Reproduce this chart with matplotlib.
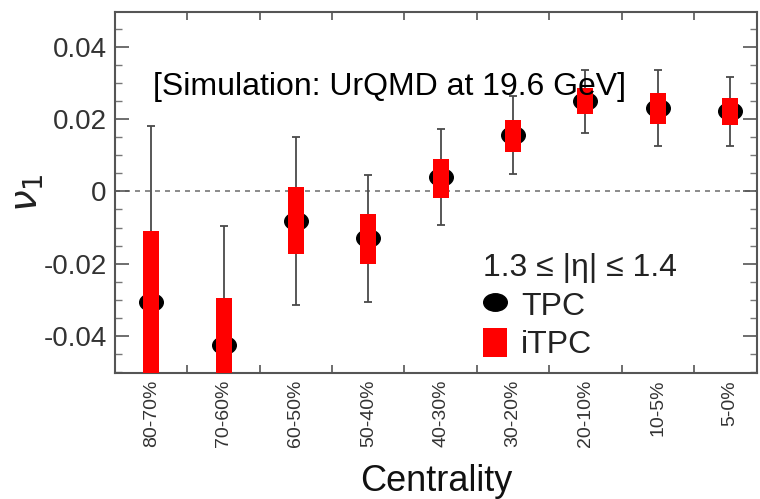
import matplotlib
matplotlib.use("Agg")
import matplotlib.pyplot as plt
from matplotlib.lines import Line2D
from matplotlib.patches import Patch
from matplotlib.path import Path
from matplotlib.transforms import Affine2D
from matplotlib.ticker import MultipleLocator, FixedLocator
import numpy as np

plt.rcParams['font.family'] = ['Liberation Sans', 'DejaVu Sans']

categories = ["80-70%", "70-60%", "60-50%", "50-40%", "40-30%", "30-20%", "20-10%", "10-5%", "5-0%"]
tpc_v1 = [-0.0305, -0.0426, -0.0083, -0.0130, 0.0040, 0.0156, 0.0250, 0.0230, 0.0222]
tpc_err = [0.0485, 0.0330, 0.0233, 0.0175, 0.0134, 0.0108, 0.0087, 0.0105, 0.0096]
itpc_v1 = [-0.0310, -0.0420, -0.0081, -0.0131, 0.0037, 0.0153, 0.0250, 0.0229, 0.0221]
itpc_err = [0.0200, 0.0125, 0.0093, 0.0069, 0.0054, 0.0044, 0.0036, 0.0043, 0.0038]

fig = plt.figure(figsize=(7.6, 4.99), dpi=100)
ax = fig.add_axes([0.1513, 0.2525, 0.8447, 0.7235])

# slightly wide ellipse marker (reference is horizontally stretched)
ell = Path.unit_circle().transformed(Affine2D().scale(1.35, 1.0))

x = np.arange(len(categories))
ax.axhline(0, color='#777777', ls=(0, (3, 3)), lw=1.2, zorder=1)

ax.errorbar(x, tpc_v1, yerr=tpc_err, fmt='none', ecolor='#4a4a4a', elinewidth=1.3,
            capsize=3, capthick=1.3, zorder=2)
ax.plot(x, tpc_v1, ls='none', marker=ell, color='black', markersize=17, zorder=3)

box_w = 0.22
for xi, v, e in zip(x, itpc_v1, itpc_err):
    ax.bar(xi, 2 * e, bottom=v - e, width=box_w, color='#ff0000', edgecolor='none', zorder=4)

ax.set_xlim(-0.5, 8.37)
ax.set_ylim(-0.0503, 0.0497)

ax.set_xticks(x)
ax.set_xticklabels(categories, rotation=90, fontsize=14, color='#333333')
ax.tick_params(axis='x', which='major', length=0, pad=5)
ax.xaxis.set_minor_locator(FixedLocator(np.arange(0.5, 8.0, 1.0)))
ax.tick_params(axis='x', which='minor', length=6, width=1.2, color='#555555', top=True, direction='in')

ax.yaxis.set_minor_locator(MultipleLocator(0.005))
ax.set_yticks([-0.04, -0.02, 0, 0.02, 0.04])
ax.set_yticklabels(['-0.04', '-0.02', '0', '0.02', '0.04'], fontsize=20, color='#333333')
ax.tick_params(axis='y', which='major', length=10, width=1.2, color='#555555', direction='in',
               right=True, pad=6)
ax.tick_params(axis='y', which='minor', length=5, width=1.0, color='#777777', direction='in', right=True)

for s in ax.spines.values():
    s.set_color('#555555')
    s.set_linewidth(1.5)

ax.set_xlabel('Centrality', fontsize=26, color='#111111', labelpad=12)
ax.set_ylabel(r'$\nu_1$', fontsize=28, color='#222222')
ax.yaxis.set_label_coords(-0.108, 0.5)

ax.text(0.03, 0.0289, '[Simulation: UrQMD at 19.6 GeV]', fontsize=23, color='black',
        ha='left', va='center', transform=ax.transData, zorder=6)

handles = [Line2D([], [], marker=ell, color='black', ls='none', markersize=17),
           Patch(facecolor='#ff0000', edgecolor='none')]
leg = ax.legend(handles, ['TPC', 'iTPC'], title='1.3 ≤ |η| ≤ 1.4', loc='lower left',
                bbox_to_anchor=(0.573, 0.035), frameon=False, fontsize=23, title_fontsize=23,
                alignment='left', handlelength=0.75, handleheight=1.0, handletextpad=0.45,
                labelspacing=0.2, borderpad=0.0, borderaxespad=0.0)
for t in leg.get_texts():
    t.set_color('#222222')
leg.get_title().set_color('#222222')

fig.savefig('out.png', dpi=100)
